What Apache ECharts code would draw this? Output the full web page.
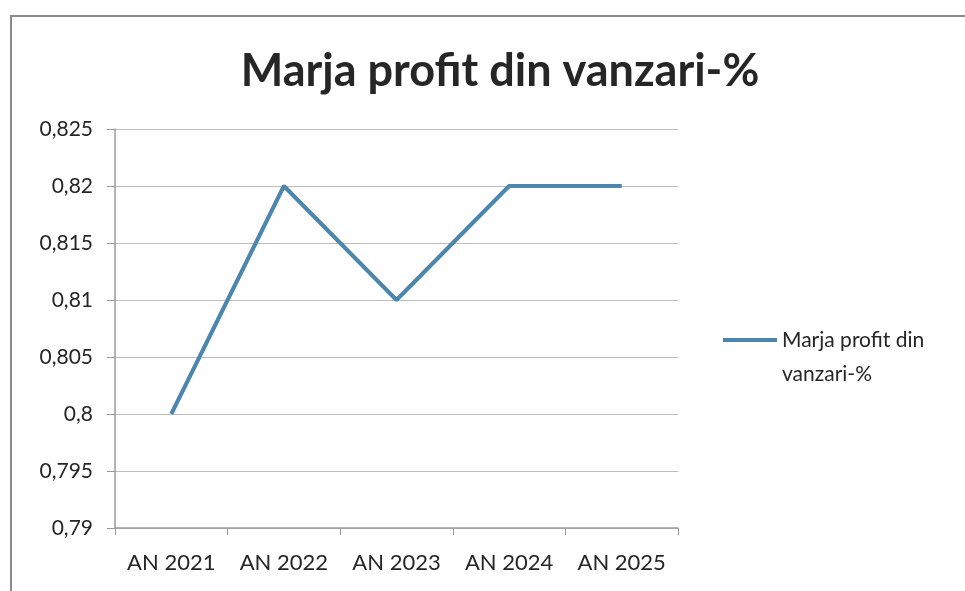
<!DOCTYPE html>
<html>
<head>
<meta charset="utf-8">
<script src="https://cdn.jsdelivr.net/npm/echarts@6/dist/echarts.min.js"></script>
<style>
  html, body { margin: 0; padding: 0; background: #fff; }
  #chart { width: 965px; height: 591px; }
</style>
</head>
<body>
<div id="chart"></div>
<script>
// date
const ani = ['AN 2021', 'AN 2022', 'AN 2023', 'AN 2024', 'AN 2025'];
const marja = [0.80, 0.82, 0.81, 0.82, 0.82];
const numeSerie = 'Marja profit din vanzari-%';

let chart = echarts.init(document.getElementById('chart'));

let option = {
  backgroundColor: '#fff',
  // rama graficului (iese din pagina in dreapta si jos)
  graphic: [{
    type: 'rect',
    shape: { x: 11, y: 16, width: 1000, height: 620 },
    style: { fill: 'none', stroke: '#8a8a8a', lineWidth: 2 },
    silent: true
  }],
  title: {
    text: 'Marja profit din vanzari-%',
    left: 495,
    top: 44,
    textAlign: 'center',
    textStyle: { fontFamily: 'Lato', fontWeight: 'bold', fontSize: 45, color: '#262626' }
  },
  legend: {
    data: [numeSerie],
    orient: 'vertical',
    left: 718,
    top: 284,
    itemWidth: 54,
    itemHeight: 4,
    itemGap: 0,
    icon: 'rect',
    // linie goala la inceput ca simbolul sa stea la primul rand
    formatter: function () { return '\nMarja profit din\nvanzari-%'; },
    textStyle: { fontFamily: 'Lato', fontSize: 21, color: '#262626', lineHeight: 34 }
  },
  grid: { left: 115, right: 287, top: 129, bottom: 63, containLabel: false },
  xAxis: {
    type: 'category',
    data: ani,
    boundaryGap: true,
    axisLine: { lineStyle: { color: '#9a9a9a', width: 1.5 } },
    axisTick: { show: true, length: 7, lineStyle: { color: '#9a9a9a' } },
    axisLabel: { interval: 0, hideOverlap: false, fontFamily: 'Lato', fontSize: 22, color: '#262626', margin: 24 }
  },
  yAxis: {
    type: 'value',
    min: 0.79,
    max: 0.825,
    interval: 0.005,
    axisLine: { show: true, lineStyle: { color: '#9a9a9a', width: 1.5 } },
    axisTick: { show: true, length: 8, lineStyle: { color: '#9a9a9a' } },
    splitLine: { lineStyle: { color: '#bdbdbd', width: 1.2 } },
    axisLabel: {
      fontFamily: 'Lato', fontSize: 21, color: '#262626', margin: 22,
      formatter: function (v) {
        return String(parseFloat(v.toFixed(3))).replace('.', ',');
      }
    }
  },
  series: [{
    name: numeSerie,
    type: 'line',
    data: marja,
    symbol: 'none',
    lineStyle: { color: '#4a86ae', width: 4 },
    itemStyle: { color: '#4a86ae' }
  }],
  animation: false
};

chart.setOption(option);
</script>
</body>
</html>
